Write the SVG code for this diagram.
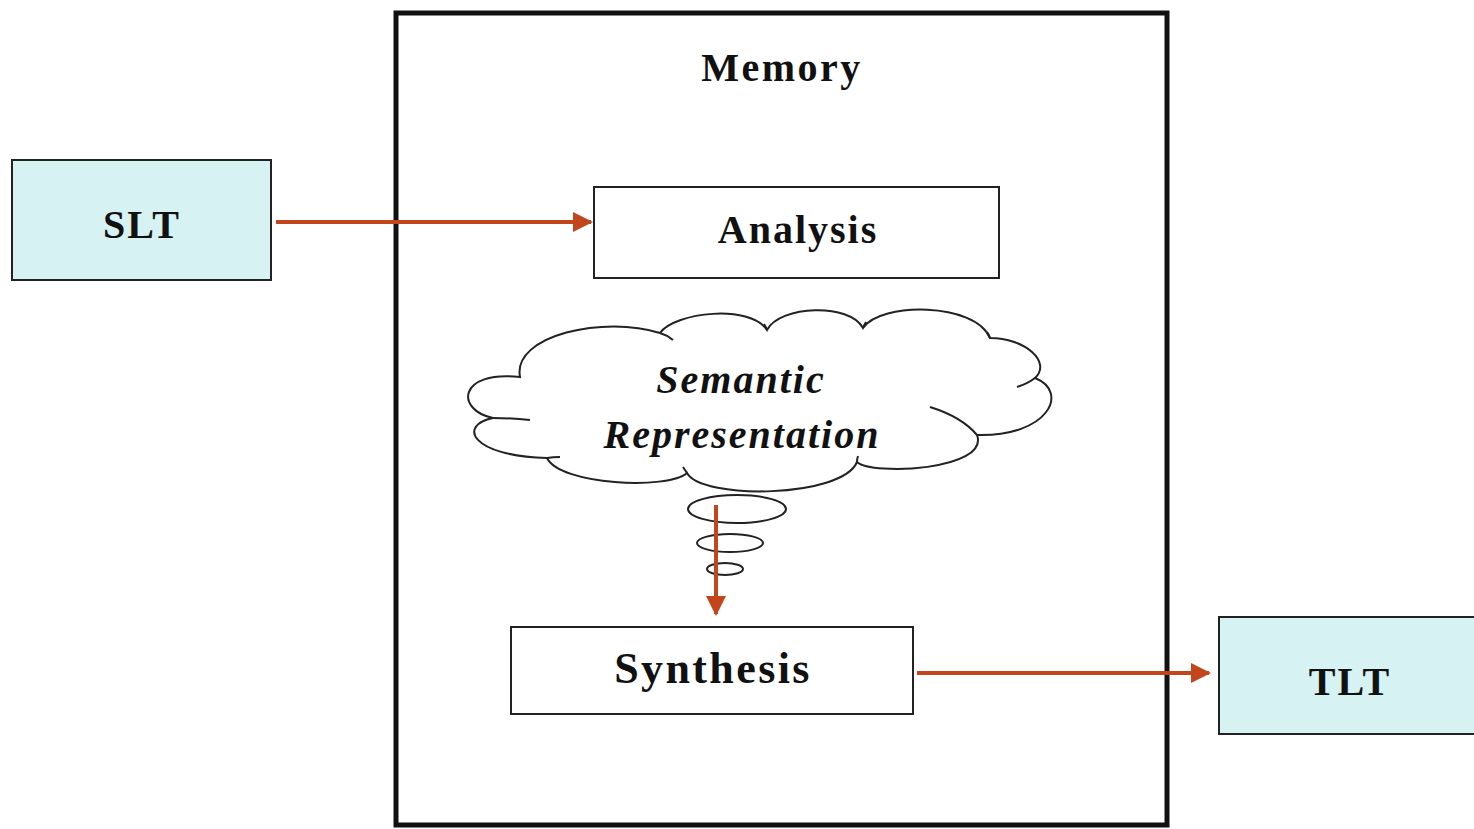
<svg xmlns="http://www.w3.org/2000/svg" width="1474" height="829" viewBox="0 0 1474 829">
<style>
.lbl{font-family:"Liberation Serif","Times New Roman",serif;font-weight:bold;fill:#111;text-anchor:middle}
.box{fill:#fff;stroke:#222;stroke-width:2}
.ext{fill:#d6f2f2;stroke:#222;stroke-width:2}
.conn{stroke:#c2451c;stroke-width:4;fill:none}
.ln{fill:none;stroke:#222;stroke-width:2}
</style>
<defs>
<marker id="ah" viewBox="0 0 10 10" refX="9" refY="5" markerWidth="5" markerHeight="5" orient="auto" markerUnits="strokeWidth">
<path d="M0,0 L10,5 L0,10 z" fill="#c2451c"/>
</marker>
</defs>
<rect width="1474" height="829" fill="#fff"/>
<g id="memory">
<rect x="396" y="13" width="771" height="812" fill="none" stroke="#111" stroke-width="5"/>
<text class="lbl" x="782" y="81" font-size="40" letter-spacing="2.5">Memory</text>
</g>
<g id="slt">
<rect class="ext" x="12" y="160" width="259" height="120"/>
<text class="lbl" x="142" y="238" font-size="40" letter-spacing="2">SLT</text>
</g>
<g id="analysis">
<rect class="box" x="594" y="187" width="405" height="91"/>
<text class="lbl" x="798" y="243" font-size="40" letter-spacing="2">Analysis</text>
</g>
<g id="semantic">
<path fill="#fff" stroke="#222" stroke-width="2" d="M520,377 C512,335 605,315 660,333 C675,312 750,304 767,330 C780,305 850,303 863,328 C880,302 975,302 990,338 C1025,338 1052,362 1035,378 C1070,392 1048,437 977,435 C990,470 872,476 857,462 C842,498 702,500 687,473 C668,490 560,485 547,458 C470,456 458,425 493,418 C455,410 458,370 520,377 Z"/>
<path class="ln" d="M660,333 Q667,335 673,340 M767,330 Q766,327 764,324 M863,328 Q864,325 866,322 M990,338 Q989,335 987,332 M1035,378 Q1027,384 1017,387 M930,407 Q962,417 977,435 M493,418 Q512,418 530,420 M547,458 Q553,457 560,457 M687,473 Q685,470 683,467 M857,462 Q857,459 858,456"/>
<text class="lbl" x="741" y="393" font-size="40" font-style="italic" letter-spacing="2">Semantic</text>
<text class="lbl" x="742" y="448" font-size="40" font-style="italic" letter-spacing="2">Representation</text>
<ellipse class="ln" cx="737" cy="509" rx="49" ry="14"/>
<ellipse class="ln" cx="730" cy="543" rx="33" ry="9"/>
<ellipse class="ln" cx="725" cy="569" rx="18" ry="6"/>
</g>
<g id="synthesis">
<rect class="box" x="511" y="627" width="402" height="87"/>
<text class="lbl" x="713" y="683" font-size="44" letter-spacing="2.4">Synthesis</text>
</g>
<g id="tlt">
<rect class="ext" x="1219" y="617" width="260" height="117"/>
<text class="lbl" x="1350" y="695" font-size="40" letter-spacing="2">TLT</text>
</g>
<g id="connectors">
<line class="conn" x1="276" y1="222" x2="591" y2="222" marker-end="url(#ah)"/>
<line class="conn" x1="716" y1="505" x2="716" y2="614" marker-end="url(#ah)"/>
<line class="conn" x1="917" y1="673" x2="1209" y2="673" marker-end="url(#ah)"/>
</g>
</svg>
